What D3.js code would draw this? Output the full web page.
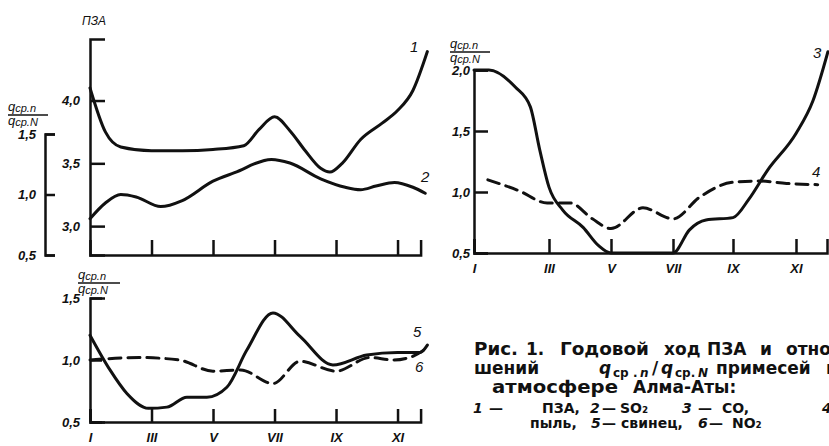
<!DOCTYPE html>
<html>
<head>
<meta charset="utf-8">
<script src="https://cdn.jsdelivr.net/npm/d3@7"></script>
<style>
  body { margin: 0; background: #fff; }
  svg { display: block; }
  .tick text { font-family: "Liberation Sans", sans-serif; font-style: italic; font-weight: bold; font-size: 13px; fill: #111; }
  .domain, .tick line { stroke: #111; stroke-width: 2.5; }
  .curve { fill: none; stroke: #111; stroke-width: 3; stroke-linecap: round; }
  .lbl { font-family: "Liberation Sans", sans-serif; font-style: italic; fill: #111; }
  .cap { font-family: "DejaVu Sans", sans-serif; font-weight: bold; fill: #111; }
</style>
</head>
<body>
<div id="container"></div>
<script>
// month ticks (roman)
var monthTicks = [1, 3, 5, 7, 9, 11];
var monthNames = ["I", "III", "V", "VII", "IX", "XI"];

// y tick values
var pzaTicks = [3.0, 3.5, 4.0];
var ratioTicks = [0.5, 1.0, 1.5];
var ratioTicksR = [0.5, 1.0, 1.5, 2.0];

// series: [month, value]
var pza = [[1,4.10],[1.5,3.75],[2,3.63],[3,3.60],[4,3.60],[5,3.61],[6,3.64],[6.5,3.77],[7,3.87],[7.5,3.76],[8,3.60],[8.5,3.46],[8.8,3.43],[9.2,3.50],[9.8,3.69],[10.5,3.82],[11,3.92],[11.5,4.08],[11.97,4.39]];
var so2 = [[1,0.80],[1.5,0.93],[2,1.00],[2.5,0.98],[3.3,0.90],[4,0.95],[5,1.11],[5.7,1.18],[6.9,1.29],[7.5,1.26],[8.5,1.13],[9.3,1.06],[9.8,1.04],[10.3,1.07],[10.9,1.10],[11.5,1.06],[11.9,1.01]];
var co = [[1,2.00],[1.4,2.00],[2.1,1.86],[2.5,1.70],[2.75,1.35],[3.0,1.04],[3.45,0.85],[4.1,0.71],[4.6,0.56],[5,0.50],[6,0.50],[7,0.50],[7.55,0.69],[8.1,0.77],[9.0,0.79],[9.5,0.94],[10.1,1.18],[11,1.48],[11.55,1.75],[12.03,2.15]];
var dust = [[1.37,1.10],[2.2,1.01],[2.95,0.91],[3.68,0.91],[4.4,0.78],[5,0.70],[6.03,0.87],[7,0.78],[7.9,0.96],[9,1.08],[9.86,1.09],[10.7,1.07],[11.7,1.06]];
var lead = [[1,1.20],[1.65,0.92],[2.2,0.73],[2.9,0.61],[3.5,0.62],[4.15,0.70],[4.8,0.70],[5.45,0.78],[6.1,1.08],[6.95,1.38],[7.83,1.19],[8.9,0.96],[10,1.04],[11,1.06],[11.73,1.06],[11.97,1.12]];
var no2 = [[1,1.00],[2.6,1.02],[3.9,1.00],[5,0.91],[5.9,0.92],[6.95,0.81],[7.83,0.99],[9,0.91],[10.1,1.02],[10.85,1.00],[11.5,1.03],[11.97,1.10]];

var W = 829, H = 446;
var svg = d3.select("#container").append("svg")
    .attr("width", W).attr("height", H);

var fmt = function(d) { return d3.format(".1f")(d).replace(".", ","); };

// scales
var xL = d3.scaleLinear().domain([1, 11.75]).range([90, 420.6]);
var xR = d3.scaleLinear().domain([1, 3, 5, 7, 9, 11, 12]).range([474, 549, 611, 673, 733, 796, 827]);
var yPza = d3.scaleLinear().domain([2.77, 4.49]).range([255, 39]);
var ySo2 = d3.scaleLinear().domain([0.5, 1.5]).range([255, 134]);
var yB = d3.scaleLinear().domain([0.5, 1.5]).range([422, 298]);
var yR = d3.scaleLinear().domain([0.5, 2.0]).range([253, 70]);

function line(x, y) {
  return d3.line().x(function(d) { return x(d[0]); }).y(function(d) { return y(d[1]); })
    .curve(d3.curveMonotoneX);
}

// ---- top-left panel
svg.append("g").attr("transform", "translate(90,0)")
  .call(d3.axisLeft(yPza).tickValues(pzaTicks).tickFormat(fmt).tickSizeInner(-15).tickSizeOuter(-15).tickPadding(10));
svg.append("g").attr("transform", "translate(45,0)")
  .call(d3.axisLeft(ySo2).tickValues(ratioTicks).tickFormat(fmt).tickSizeInner(-10).tickSizeOuter(-10).tickPadding(9));
svg.append("g").attr("transform", "translate(0,255)")
  .call(d3.axisBottom(xL).tickValues(monthTicks.slice(1)).tickFormat("").tickSizeInner(-15).tickSizeOuter(-15));

svg.append("path").datum(pza).attr("class", "curve").attr("d", line(xL, yPza));
svg.append("path").datum(so2).attr("class", "curve").attr("d", line(xL, ySo2));

// ---- bottom-left panel
svg.append("g").attr("transform", "translate(90,0)")
  .call(d3.axisLeft(yB).tickValues(ratioTicks).tickFormat(fmt).tickSizeInner(-12).tickSizeOuter(-15).tickPadding(10));
svg.append("g").attr("transform", "translate(0,422)")
  .call(d3.axisBottom(xL).tickValues(monthTicks).tickFormat(function(d, i) { return monthNames[i]; })
    .tickSizeInner(-13).tickSizeOuter(-13).tickPadding(11));

svg.append("path").datum(lead).attr("class", "curve").attr("d", line(xL, yB));
svg.append("path").datum(no2).attr("class", "curve").attr("stroke-dasharray", "12,7").attr("d", line(xL, yB));

// ---- right panel
svg.append("g").attr("transform", "translate(474,0)")
  .call(d3.axisLeft(yR).tickValues(ratioTicksR).tickFormat(fmt).tickSizeInner(-14).tickSizeOuter(-14).tickPadding(4));
svg.append("g").attr("transform", "translate(0,253)")
  .call(d3.axisBottom(xR).tickValues(monthTicks).tickFormat(function(d, i) { return monthNames[i]; })
    .tickSizeInner(-14).tickSizeOuter(-14).tickPadding(11));

svg.append("path").datum(co).attr("class", "curve").attr("d", line(xR, yR));
svg.append("path").datum(dust).attr("class", "curve").attr("stroke-dasharray", "12,7").attr("d", line(xR, yR));

// ---- axis titles
svg.append("text").attr("class", "lbl").attr("x", 82).attr("y", 25).style("font-size", "12px").text("ПЗА");

function frac(x, y, w) {
  var g = svg.append("g").attr("transform", "translate(" + x + "," + y + ")");
  var t1 = g.append("text").attr("class", "lbl").attr("x", 0).attr("y", 0).style("font-size", "11px");
  t1.append("tspan").style("font-size", "13px").text("q");
  t1.append("tspan").attr("dy", 1).text("ср.n");
  g.append("line").attr("x1", 0).attr("x2", w).attr("y1", 4).attr("y2", 4)
    .attr("stroke", "#111").attr("stroke-width", 1.5);
  var t2 = g.append("text").attr("class", "lbl").attr("x", 0).attr("y", 14).style("font-size", "11px");
  t2.append("tspan").style("font-size", "13px").text("q");
  t2.append("tspan").attr("dy", 1).text("ср.N");
}
frac(8, 111, 40);
frac(78, 279, 42);
frac(450, 48, 40);

// ---- curve numbers
var nums = [["1", 410, 52], ["2", 421, 182], ["3", 813, 58], ["4", 812, 177], ["5", 413, 337], ["6", 415, 372]];
svg.selectAll(".num").data(nums).enter().append("text")
  .attr("class", "lbl").style("font-size", "15px")
  .attr("x", function(d) { return d[1]; }).attr("y", function(d) { return d[2]; })
  .text(function(d) { return d[0]; });

// ---- caption (pieces: text, x, y, size, italic, width)
var capPieces = [
  ["Рис.", 474, 355, 17, 0, 44], ["1.", 526, 355, 17, 0, 0], ["Годовой", 560, 355, 17, 0, 89], ["ход", 664, 355, 17, 0, 0],
  ["ПЗА", 707, 355, 17, 0, 0], ["и", 760, 355, 17, 0, 0], ["отношений", 786, 355, 17, 0, 0],
  ["шений", 474, 374, 17, 0, 0],
  ["примесей", 716, 374, 17, 0, 0], ["в", 826, 374, 17, 0, 0],
  ["атмосфере", 492, 393, 17, 0, 126], ["Алма-Аты:", 633, 393, 17, 0, 0],
  ["1", 473, 413, 14, 1, 0], ["—", 489, 413, 14, 0, 0], ["ПЗА,", 542, 413, 14, 0, 0], ["2", 590, 413, 14, 1, 0], ["—", 602, 413, 14, 0, 0],
  ["SO₂", 620, 413, 14, 0, 0], ["3", 682, 413, 14, 1, 0], ["—", 698, 413, 14, 0, 0], ["CO,", 722, 413, 14, 0, 0], ["4", 822, 413, 14, 1, 0],
  ["пыль,", 530, 428, 14, 0, 0], ["5", 591, 428, 14, 1, 0], ["—", 602, 428, 14, 0, 0], ["свинец,", 621, 428, 14, 0, 0],
  ["6", 698, 428, 14, 1, 0], ["—", 709, 428, 14, 0, 0], ["NO₂", 732, 428, 14, 0, 0]
];
svg.append("g").selectAll("text").data(capPieces).enter().append("text")
  .attr("class", "cap")
  .attr("x", function(d) { return d[1]; }).attr("y", function(d) { return d[2]; })
  .style("font-size", function(d) { return d[3] + "px"; })
  .style("font-style", function(d) { return d[4] ? "italic" : "normal"; })
  .attr("textLength", function(d) { return d[5] ? d[5] : null; })
  .attr("lengthAdjust", "spacingAndGlyphs")
  .text(function(d) { return d[0]; });

// formula q_ср.n / q_ср.N in one text element
var fq = svg.append("text").attr("class", "cap").attr("y", 374).style("font-size", "17px");
fq.append("tspan").attr("x", 599).style("font-style", "italic").text("q");
fq.append("tspan").attr("x", 613).attr("dy", 3).style("font-size", "12px").text("ср .");
fq.append("tspan").attr("x", 640).style("font-size", "12px").style("font-style", "italic").text("n");
fq.append("tspan").attr("x", 652).attr("dy", -3).text("/");
fq.append("tspan").attr("x", 661).style("font-style", "italic").text("q");
fq.append("tspan").attr("x", 675).attr("dy", 3).style("font-size", "12px").text("ср.");
fq.append("tspan").attr("x", 698).style("font-size", "12px").style("font-style", "italic").text("N");
</script>
</body>
</html>
